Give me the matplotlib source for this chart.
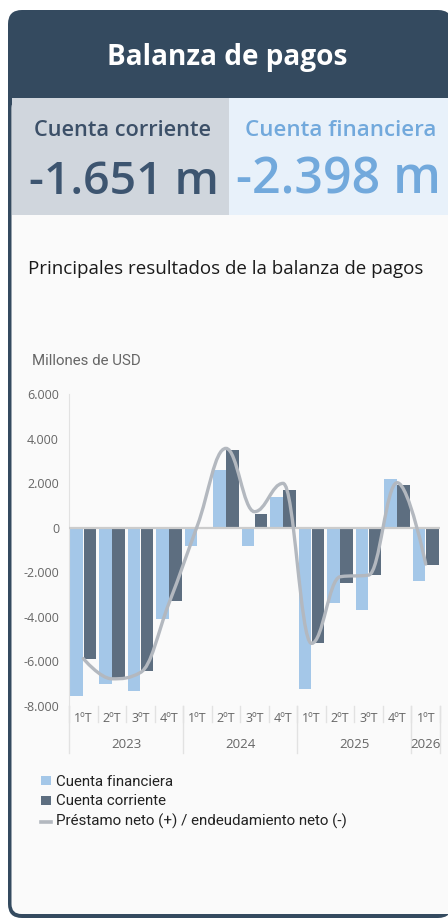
import matplotlib
matplotlib.use('Agg')
import matplotlib.pyplot as plt
from matplotlib.patches import FancyBboxPatch, Rectangle, PathPatch
from matplotlib.path import Path
from matplotlib.ticker import FuncFormatter
import numpy as np

# data (millones de USD)
quarters = ['1ºT', '2ºT', '3ºT', '4ºT'] * 3 + ['1ºT']
years = ['2023', '2024', '2025', '2026']
quarters_per_year = [4, 4, 4, 1]
cuenta_financiera = [-7550, -7030, -7340, -4080, -840, 2570, -820, 1375,
                     -7220, -3365, -3680, 2180, -2398]
cuenta_corriente = [-5870, -6800, -6430, -3275, 50, 3500, 600, 1690,
                    -5190, -2470, -2125, 1900, -1651]
prestamo_neto = [-5870, -6780, -6500, -3400, 100, 3560, 720, 1990,
                 -5190, -2200, -2125, 2020, -1630]

kpi_corriente = '-1.651 m'
kpi_financiera = '-2.398 m'

DARK = '#344a5f'
LIGHT_BAR = '#a4c7e8'
DARK_BAR = '#5d6e80'
LINE = '#b3b8bf'
GREY_TXT = '#666666'
NARROW = ['Liberation Sans Narrow', 'Roboto']

W, H = 448, 919


def spline_path(xs, ys, smoothing=1.5):
    # highcharts style spline through the points
    pts = [(float(a), float(b)) for a, b in zip(xs, ys)]
    n = len(pts)
    left = list(pts)
    right = list(pts)
    d = smoothing + 1
    for i in range(1, n - 1):
        px, py = pts[i]
        lx, ly = pts[i - 1]
        nx, ny = pts[i + 1]
        lcx = (smoothing * px + lx) / d
        lcy = (smoothing * py + ly) / d
        rcx = (smoothing * px + nx) / d
        rcy = (smoothing * py + ny) / d
        corr = (rcy - lcy) * (rcx - px) / (rcx - lcx) + py - rcy
        lcy += corr
        rcy += corr
        if lcy > ly and lcy > py:
            lcy = max(ly, py)
            rcy = 2 * py - lcy
        elif lcy < ly and lcy < py:
            lcy = min(ly, py)
            rcy = 2 * py - lcy
        if rcy > ny and rcy > py:
            rcy = max(ny, py)
            lcy = 2 * py - rcy
        elif rcy < ny and rcy < py:
            rcy = min(ny, py)
            lcy = 2 * py - rcy
        left[i] = (lcx, lcy)
        right[i] = (rcx, rcy)
    verts = [pts[0]]
    codes = [Path.MOVETO]
    for i in range(1, n):
        verts += [right[i - 1], left[i], pts[i]]
        codes += [Path.CURVE4] * 3
    return Path(verts, codes)


fig = plt.figure(figsize=(W / 100, H / 100), dpi=100)
fig.patch.set_facecolor('white')
renderer = fig.canvas.get_renderer()


def fit(t, width):
    w = t.get_window_extent(renderer).width
    t.set_fontsize(t.get_fontsize() * width / w)
    return t


# card background in pixel coordinates
bg = fig.add_axes([0, 0, 1, 1])
bg.set_xlim(0, W)
bg.set_ylim(H, 0)
bg.axis('off')
bg.add_patch(FancyBboxPatch((8, 10), 444, 908, boxstyle='round,pad=0,rounding_size=14',
                            fc=DARK, ec='none'))
bg.add_patch(FancyBboxPatch((11.5, 98), 450, 816, boxstyle='round,pad=0,rounding_size=10',
                            fc='#fafafa', ec='none'))
bg.add_patch(Rectangle((11.5, 98), 217.5, 117, fc='#d0d6dd', ec='none'))
bg.add_patch(Rectangle((229, 98), 230, 117, fc='#e8f1fa', ec='none'))

fit(bg.text(227.5, 65, 'Balanza de pagos', color='white', fontsize=18, weight='bold',
            family='Open Sans', ha='center', va='baseline'), 241)
fit(bg.text(122.5, 136, 'Cuenta corriente', color='#3c5068', fontsize=14, weight='semibold',
            family='Open Sans', ha='center', va='baseline'), 179)
fit(bg.text(340.5, 136, 'Cuenta financiera', color='#72a9dc', fontsize=14, weight='semibold',
            family='Open Sans', ha='center', va='baseline'), 193)
fit(bg.text(124, 194, kpi_corriente, color='#3d5570', fontsize=34, weight='semibold',
            family='Open Sans', ha='center', va='baseline'), 190)
fit(bg.text(338.5, 194, kpi_financiera, color='#72a9dc', fontsize=34, weight='semibold',
            family='Open Sans', ha='center', va='baseline'), 205)
fit(bg.text(28, 274, 'Principales resultados de la balanza de pagos', color='#1a1a1a',
            fontsize=12, weight='medium', family='Open Sans', ha='left', va='baseline'), 393)
fit(bg.text(32, 365, 'Millones de USD', color=GREY_TXT, fontsize=10, family=NARROW,
            ha='left', va='baseline'), 109)

# legend
bg.add_patch(Rectangle((40.5, 776), 10, 9, fc=LIGHT_BAR, ec='none'))
bg.add_patch(Rectangle((40.5, 796), 10, 9, fc=DARK_BAR, ec='none'))
bg.plot([40.5, 51], [821.5, 821.5], color=LINE, lw=2.6)
fit(bg.text(56, 786, 'Cuenta financiera', color='#222222', fontsize=11, family=NARROW,
            va='baseline'), 117)
fit(bg.text(56, 805, 'Cuenta corriente', color='#222222', fontsize=11, family=NARROW,
            va='baseline'), 110)
fit(bg.text(56, 825.5, 'Préstamo neto (+) / endeudamiento neto (-)', color='#222222',
            fontsize=11, family=NARROW, va='baseline'), 291)

# chart
ax = fig.add_axes([69 / W, 1 - 706 / H, 371 / W, 312 / H])
ax.set_facecolor('none')
x = np.arange(len(quarters))
ax.bar(x - 0.23, cuenta_financiera, 0.44, color=LIGHT_BAR, zorder=2)
ax.bar(x + 0.23, cuenta_corriente, 0.44, color=DARK_BAR, zorder=2)
ax.axhline(0, color='#cccccc', lw=1.6, zorder=3)
ax.add_patch(PathPatch(spline_path(x, prestamo_neto), fill=False, ec=LINE, lw=2.4,
                       zorder=4, capstyle='round'))
ax.set_xlim(-0.5, len(quarters) - 0.5)
ax.set_ylim(-8000, 6000)
ax.set_yticks(range(-8000, 6001, 2000))
ax.yaxis.set_major_formatter(FuncFormatter(lambda v, p: f'{v:,.0f}'.replace(',', '.')))
ax.tick_params(axis='y', length=0, pad=7.2, labelsize=9, labelcolor=GREY_TXT)
for lab in ax.get_yticklabels():
    lab.set_family('Open Sans')
ax.set_xticks([])
for s in ['top', 'right', 'bottom']:
    ax.spines[s].set_visible(False)
ax.spines['left'].set_color('#e2e2e2')

xt = ax.get_xaxis_transform()
for b in np.arange(-0.5, len(quarters), 1):
    ax.plot([b, b], [0, -0.052], transform=xt, color='#e2e2e2', lw=1, clip_on=False)
for i, q in enumerate(quarters):
    ax.text(i, -0.0385, q, transform=xt, ha='center', va='center', fontsize=9,
            color=GREY_TXT, family='Open Sans')
start = -0.5
ax.plot([start, start], [0, -0.152], transform=xt, color='#e2e2e2', lw=1, clip_on=False)
for yr, n in zip(years, quarters_per_year):
    ax.text(start + n / 2, -0.125, yr, transform=xt, ha='center', va='center', fontsize=9.5,
            color=GREY_TXT, family='Open Sans')
    start += n
    ax.plot([start, start], [0, -0.152], transform=xt, color='#e2e2e2', lw=1, clip_on=False)

fig.savefig('out.png', dpi=100, facecolor='white')
